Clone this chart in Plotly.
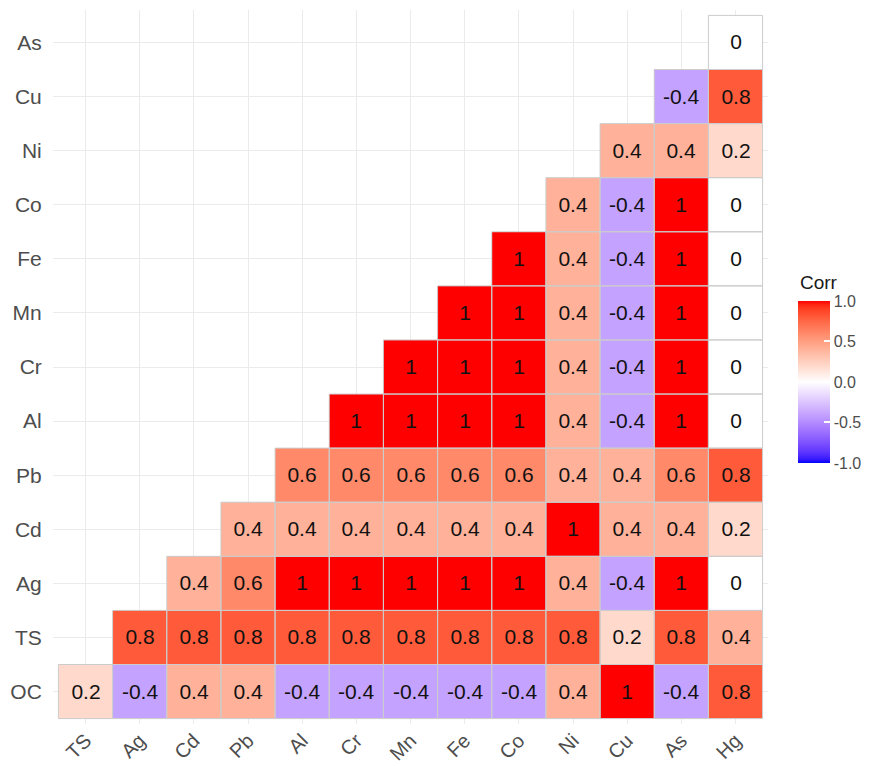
import numpy as np
import plotly.graph_objects as go

x_labels = ["TS", "Ag", "Cd", "Pb", "Al", "Cr", "Mn", "Fe", "Co", "Ni", "Cu", "As", "Hg"]
y_labels = ["OC", "TS", "Ag", "Cd", "Pb", "Al", "Cr", "Mn", "Fe", "Co", "Ni", "Cu", "As"]

# rows (bottom to top), values for columns starting at the diagonal
row_OC = [0.2, -0.4, 0.4, 0.4, -0.4, -0.4, -0.4, -0.4, -0.4, 0.4, 1, -0.4, 0.8]
row_TS = [0.8, 0.8, 0.8, 0.8, 0.8, 0.8, 0.8, 0.8, 0.8, 0.2, 0.8, 0.4]
row_Ag = [0.4, 0.6, 1, 1, 1, 1, 1, 0.4, -0.4, 1, 0]
row_Cd = [0.4, 0.4, 0.4, 0.4, 0.4, 0.4, 1, 0.4, 0.4, 0.2]
row_Pb = [0.6, 0.6, 0.6, 0.6, 0.6, 0.4, 0.4, 0.6, 0.8]
row_Al = [1, 1, 1, 1, 0.4, -0.4, 1, 0]
row_Cr = [1, 1, 1, 0.4, -0.4, 1, 0]
row_Mn = [1, 1, 0.4, -0.4, 1, 0]
row_Fe = [1, 0.4, -0.4, 1, 0]
row_Co = [0.4, -0.4, 1, 0]
row_Ni = [0.4, 0.4, 0.2]
row_Cu = [-0.4, 0.8]
row_As = [0]

colorbar_ticks = [1, 0.5, 0, -0.5, -1]
colorbar_ticktext = ["1.0", "0.5", "0.0", "-0.5", "-1.0"]

rows = [row_OC, row_TS, row_Ag, row_Cd, row_Pb, row_Al, row_Cr, row_Mn,
        row_Fe, row_Co, row_Ni, row_Cu, row_As]

n = len(x_labels)
z = [[None] * n for _ in range(n)]
txt = [[""] * n for _ in range(n)]
for i, r in enumerate(rows):
    start = n - len(r)
    for k, v in enumerate(r):
        z[i][start + k] = v
        txt[i][start + k] = f"{v:g}"


# ---- Lab-interpolated diverging colour scale (blue - white - red) ----
def srgb_to_lab(rgb):
    c = np.array(rgb, dtype=float) / 255.0
    c = np.where(c <= 0.04045, c / 12.92, ((c + 0.055) / 1.055) ** 2.4)
    M = np.array([[0.4124564, 0.3575761, 0.1804375],
                  [0.2126729, 0.7151522, 0.0721750],
                  [0.0193339, 0.1191920, 0.9503041]])
    xyz = M @ c
    wp = np.array([0.95047, 1.0, 1.08883])
    t = xyz / wp
    f = np.where(t > (6 / 29) ** 3, np.cbrt(t), t / (3 * (6 / 29) ** 2) + 4 / 29)
    return np.array([116 * f[1] - 16, 500 * (f[0] - f[1]), 200 * (f[1] - f[2])])


def lab_to_srgb(lab):
    L, a, b = lab
    fy = (L + 16) / 116
    fx = fy + a / 500
    fz = fy - b / 200
    f = np.array([fx, fy, fz])
    t = np.where(f > 6 / 29, f ** 3, 3 * (6 / 29) ** 2 * (f - 4 / 29))
    xyz = t * np.array([0.95047, 1.0, 1.08883])
    Minv = np.array([[3.2404542, -1.5371385, -0.4985314],
                     [-0.9692660, 1.8760108, 0.0415560],
                     [0.0556434, -0.2040259, 1.0572252]])
    c = Minv @ xyz
    c = np.clip(c, 0, 1)
    c = np.where(c <= 0.0031308, 12.92 * c, 1.055 * c ** (1 / 2.4) - 0.055)
    c = np.clip(np.round(c * 255), 0, 255).astype(int)
    return f"rgb({c[0]},{c[1]},{c[2]})"


lab_blue = srgb_to_lab([0, 0, 255])
lab_white = srgb_to_lab([255, 255, 255])
lab_red = srgb_to_lab([255, 0, 0])
colorscale = []
steps = 40
for s in range(steps + 1):
    p = s / steps
    if p <= 0.5:
        t = p / 0.5
        lab = lab_blue + (lab_white - lab_blue) * t
    else:
        t = (p - 0.5) / 0.5
        lab = lab_white + (lab_red - lab_white) * t
    colorscale.append([p, lab_to_srgb(lab)])

# figure geometry (page has an 8px body margin)
W, H = 867, 758
ML, MR, MT, MB = 45, 107, 2, 42
plot_w = W - ML - MR
plot_h = H - MT - MB
FONT = "Liberation Sans, Arial, sans-serif"

fig = go.Figure()
fig.add_trace(go.Heatmap(
    z=z, x=x_labels, y=y_labels, text=txt,
    texttemplate="%{text}",
    textfont=dict(family=FONT, size=21, color="#111111"),
    colorscale=colorscale, zmin=-1, zmax=1,
    hoverongaps=False,
    colorbar=dict(
        xref="container", yref="container",
        x=790 / W, xanchor="left",
        y=1 - 397 / H, yanchor="middle",
        len=162, lenmode="pixels",
        thickness=32, outlinewidth=0, xpad=0, ypad=0,
        tickvals=colorbar_ticks,
        ticktext=colorbar_ticktext,
        ticks="inside", ticklen=6, tickcolor="white", tickwidth=1.5,
        tickfont=dict(family=FONT, size=16, color="#4d4d4d"),
    ),
))

shapes = []
for i in range(n):
    for j in range(n):
        if z[i][j] is not None:
            shapes.append(dict(type="rect", xref="x", yref="y",
                               x0=j - 0.5, x1=j + 0.5, y0=i - 0.5, y1=i + 0.5,
                               line=dict(color="#cccccc", width=1),
                               fillcolor="rgba(0,0,0,0)", layer="above"))

fig.update_layout(
    width=W, height=H,
    margin=dict(l=ML, r=MR, t=MT, b=MB, autoexpand=False),
    paper_bgcolor="white", plot_bgcolor="white",
    shapes=shapes,
    font=dict(family=FONT),
    annotations=[dict(
        text="Corr", showarrow=False,
        xref="paper", yref="paper",
        x=(790 - ML) / plot_w, xanchor="left",
        y=1 - (274 - MT) / plot_h, yanchor="middle",
        font=dict(family=FONT, size=19, color="#1a1a1a"),
    )],
)
fig.update_xaxes(range=[-0.6, n - 0.4], showgrid=True, gridcolor="#ebebeb", gridwidth=1,
                 zeroline=False, tickangle=-45, ticks="",
                 tickfont=dict(size=20, color="#4d4d4d"), showline=False)
fig.update_yaxes(range=[-0.6, n - 0.4], showgrid=True, gridcolor="#ebebeb", gridwidth=1,
                 zeroline=False, ticks="outside", ticklen=6, tickcolor="rgba(0,0,0,0)",
                 tickfont=dict(size=21, color="#4d4d4d"), showline=False)

fig.write_html("out.html")
